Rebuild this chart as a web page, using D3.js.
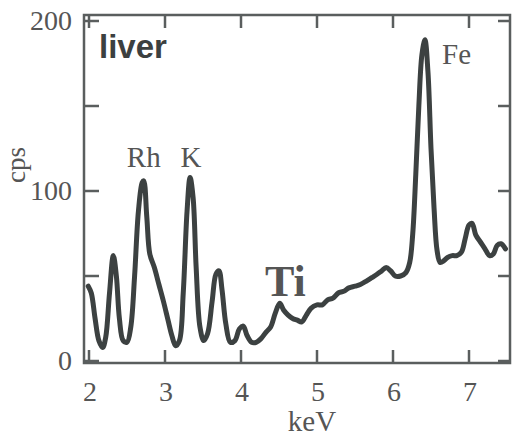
<!DOCTYPE html>
<html lang="en">
<head>
  <meta charset="UTF-8" />
  <title>liver spectrum</title>
  <style>
    body { margin: 0; background: #fff; }
    svg { display: block; }
    .frame { fill: none; stroke: #5a5e5e; stroke-width: 2.5px; }
    .tick { stroke: #5a5e5e; stroke-width: 2.5px; }
    .lbl { font-family: "Liberation Serif", "Times New Roman", serif; fill: #555; }
    .spec { fill: none; stroke: #3c4141; stroke-width: 5px; stroke-linejoin: round; stroke-linecap: round; }
  </style>
  <script src="https://d3js.org/d3.v7.min.js"></script>
</head>
<body>
  <svg id="chart" width="512" height="438"></svg>
  <script>
    // ---- data ----
    const energy = [1.99, 2.03, 2.08, 2.13, 2.18, 2.22, 2.27, 2.32, 2.36, 2.40, 2.45, 2.50,
      2.55, 2.60, 2.65, 2.70, 2.72, 2.76, 2.80, 2.86, 2.92, 2.98, 3.04, 3.09, 3.14, 3.19,
      3.24, 3.29, 3.33, 3.37, 3.41, 3.46, 3.51, 3.56, 3.62, 3.67, 3.71, 3.75, 3.80, 3.86,
      3.92, 3.98, 4.03, 4.08, 4.14, 4.20, 4.26, 4.33, 4.39, 4.45, 4.51, 4.56, 4.62, 4.68,
      4.74, 4.80, 4.86, 4.92, 5.00, 5.07, 5.14, 5.21, 5.28, 5.35, 5.42, 5.50, 5.57, 5.65,
      5.72, 5.79, 5.85, 5.91, 5.97, 6.03, 6.10, 6.17, 6.22, 6.26, 6.30, 6.34, 6.38, 6.42,
      6.46, 6.50, 6.54, 6.58, 6.62, 6.67, 6.72, 6.78, 6.84, 6.90, 6.95, 7.00, 7.04, 7.09,
      7.15, 7.21, 7.27, 7.32, 7.37, 7.42, 7.48];
    const cps = [44, 40, 25, 12, 8, 14, 40, 62, 50, 25, 12, 11,
      20, 50, 88, 105, 106, 85, 63, 55, 45, 35, 24, 15, 9, 12,
      40, 88, 108, 96, 55, 20, 12, 16, 35, 51, 53, 42, 22, 11,
      12, 19, 20.5, 15, 11, 11, 13, 17, 20, 28, 34, 30, 27, 25,
      24, 23, 27, 31, 33, 33, 36, 37, 40, 41, 43, 44, 45, 47,
      49, 51, 53, 55, 53, 50, 50, 52, 58, 75, 110, 150, 180, 189,
      170, 125, 90, 65, 58, 59, 61, 62, 62, 64, 72, 80, 81, 74,
      70, 66, 62, 63, 68, 69, 66];
    const xTicks = [2, 3, 4, 5, 6, 7];
    const yTicks = [0, 50, 100, 150, 200];
    const yTickLabels = [0, 100, 200];
    const peakNames = ["Rh", "K", "Fe"];
    const peakEnergy = [2.72, 3.33, 6.42];

    const svg = d3.select("#chart");
    const fLeft = 84, fRight = 510, fTop = 15, fBottom = 363;

    const x = d3.scaleLinear().domain([2, 7]).range([89, 469]);
    const y = d3.scaleLinear().domain([0, 200]).range([361, 21]);

    // frame
    svg.append("rect").attr("class", "frame")
      .attr("x", fLeft).attr("y", fTop)
      .attr("width", fRight - fLeft).attr("height", fBottom - fTop);

    // inward ticks on all four sides
    const tk = 13;
    xTicks.forEach(t => {
      svg.append("line").attr("class", "tick")
        .attr("x1", x(t)).attr("x2", x(t)).attr("y1", fBottom).attr("y2", fBottom - tk);
      svg.append("line").attr("class", "tick")
        .attr("x1", x(t)).attr("x2", x(t)).attr("y1", fTop).attr("y2", fTop + tk);
      svg.append("text").attr("class", "lbl")
        .attr("x", x(t) + 1).attr("y", 401)
        .attr("text-anchor", "middle").attr("font-size", 28)
        .text(t);
    });
    yTicks.forEach(t => {
      svg.append("line").attr("class", "tick")
        .attr("x1", fLeft).attr("x2", fLeft + 15).attr("y1", y(t)).attr("y2", y(t));
      svg.append("line").attr("class", "tick")
        .attr("x1", fRight).attr("x2", fRight - 12).attr("y1", y(t)).attr("y2", y(t));
    });
    yTickLabels.forEach(t => {
      svg.append("text").attr("class", "lbl")
        .attr("x", 72).attr("y", y(t) + 9)
        .attr("text-anchor", "end").attr("font-size", 28)
        .text(t);
    });

    // axis titles
    svg.append("text").attr("class", "lbl")
      .attr("transform", "translate(25,165) rotate(-90)")
      .attr("text-anchor", "middle").attr("font-size", 27)
      .text("cps");
    svg.append("text").attr("class", "lbl")
      .attr("x", 312).attr("y", 431)
      .attr("text-anchor", "middle").attr("font-size", 29)
      .text("keV");

    // spectrum
    const pts = energy.map((e, i) => [e, cps[i]]);
    const line = d3.line()
      .x(d => x(d[0]))
      .y(d => y(d[1]))
      .curve(d3.curveCatmullRom.alpha(0.5));
    svg.append("path").attr("class", "spec").attr("d", line(pts));

    // annotations
    svg.append("text")
      .attr("x", 99).attr("y", 58)
      .attr("font-family", "Liberation Sans, Arial, sans-serif")
      .attr("font-weight", "bold").attr("font-size", 33)
      .attr("fill", "#3c4040")
      .text("liver");

    const peakLabelPos = [[x(peakEnergy[0]), 167, "middle"], [x(peakEnergy[1]) + 1, 167, "middle"], [442, 64, "start"]];
    peakNames.forEach((n, i) => {
      svg.append("text").attr("class", "lbl")
        .attr("x", peakLabelPos[i][0]).attr("y", peakLabelPos[i][1])
        .attr("text-anchor", peakLabelPos[i][2]).attr("font-size", 29)
        .text(n);
    });

    svg.append("text").attr("class", "lbl")
      .attr("x", 265).attr("y", 296)
      .attr("font-weight", "bold").attr("font-size", 44)
      .attr("fill", "#444")
      .text("Ti");
  </script>
</body>
</html>
